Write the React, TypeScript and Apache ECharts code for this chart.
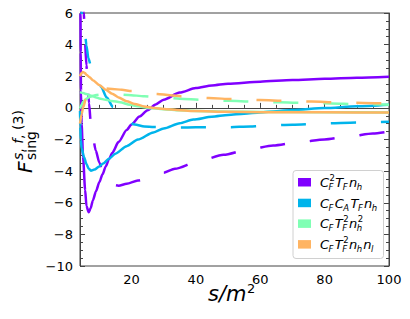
import React, { useEffect, useRef } from 'react';
import * as echarts from 'echarts';

// ---- axes ----
const xMin = 4;
const xMax = 100;
const yMin = -10;
const yMax = 6;
const yStep = 2;
const xMajorTicks = [20, 40, 60, 80, 100];
const xMinorTicks = [5, 10, 15, 25, 30, 35, 45, 50, 55, 65, 70, 75, 85, 90, 95];

// ---- colours (one per colour factor) ----
const colors = ['#8000ff', '#00b4eb', '#80ffb4', '#ffb462'];

// ---- series values [s/m^2, F] ----
const cf2TfNhSolid: [number, number][] = [
  [4.08, 9], [4.15, 6], [4.22, 3.5], [4.3, 1.1], [4.5, -1.0], [4.95, -3.1], [5.6, -5.2], [6.0, -6.2],
  [6.7, -6.6], [7.3, -6.35], [8, -5.85], [9, -5.25], [10, -4.7], [11, -4.2], [12, -3.7], [13, -3.25],
  [14, -2.85], [16, -2.15], [18.5, -1.4], [20, -1.05], [22.5, -0.55], [25, -0.15], [27.5, 0.22],
  [30, 0.52], [35, 0.97], [40, 1.25], [45, 1.42], [50, 1.53], [60, 1.66], [70, 1.76], [80, 1.84],
  [90, 1.91], [100, 1.97],
];
const cf2TfNhDashed: [number, number][] = [
  [5.0, 7.2], [5.17, 6.0], [5.6, 4.0], [6.0, 2.7], [6.4, 1.4], [6.8, 0.3], [7.3, -0.8], [8, -1.85],
  [8.9, -2.7], [10, -3.45], [11, -4.05], [12.5, -4.6], [14, -4.85], [16, -4.92], [18.5, -4.8],
  [22, -4.6], [25.7, -4.39], [30, -4.1], [33.5, -3.85], [40.8, -3.38], [48.6, -2.97], [56.4, -2.63],
  [64, -2.38], [72, -2.17], [80, -2.0], [87.5, -1.81], [95, -1.62], [100, -1.5],
];
const cfCaTfNhSolid: [number, number][] = [
  [4.0, -0.2], [4.1, -1.2], [4.24, -2.0], [4.5, -2.55], [5.27, -3.12], [6, -3.55], [6.7, -3.85],
  [7.4, -3.97], [8.5, -3.9], [10, -3.7], [11.2, -3.52], [13, -3.22], [15, -2.9], [18.5, -2.42],
  [22, -2.0], [26.8, -1.55], [30, -1.3], [35, -0.97], [39.2, -0.74], [45, -0.56], [50, -0.45],
  [55, -0.37], [60, -0.29], [65, -0.21], [70, -0.13], [80, -0.01], [90, 0.1], [100, 0.2],
];
const cfCaTfNhDashed: [number, number][] = [
  [4.15, 7.5], [4.3, 6.3], [5.0, 5.3], [5.5, 4.8], [6.0, 3.95], [6.6, 3.15], [7.5, 2.55], [8.9, 2.0],
  [10.5, 1.35], [12.3, 0.65], [14.3, 0.05], [16.5, -0.45], [18.5, -0.8], [21, -1.05], [24, -1.17],
  [27, -1.21], [30, -1.23], [35, -1.24], [40, -1.23], [50, -1.22], [57, -1.18], [60, -1.15],
  [70, -1.06], [80, -0.98], [90, -0.92], [100, -0.87],
];
const cfTf2Nh2Solid: [number, number][] = [
  [4.0, 1.0], [5, 0.94], [6, 0.87], [7, 0.8], [8, 0.73], [9, 0.66], [10, 0.6], [12, 0.51],
  [14, 0.44], [16.4, 0.36], [19.5, 0.2], [22, 0.1], [25, 0.0], [30, -0.08], [35, -0.15],
  [40, -0.19], [50, -0.24], [60, -0.26], [80, -0.27], [100, -0.29],
];
const cfTf2Nh2Dashed: [number, number][] = [
  [4.0, -0.05], [4.5, 0.2], [5, 0.38], [6, 0.58], [7, 0.7], [8, 0.77], [9, 0.81], [10.5, 0.84],
  [12.5, 0.85], [15, 0.85], [19, 0.82], [24, 0.73], [30, 0.64], [35, 0.58], [42, 0.5], [50, 0.45],
  [58, 0.4], [66, 0.35], [74, 0.31], [82, 0.28], [90, 0.24], [100, 0.2],
];
const cfTf2NhNlSolid: [number, number][] = [
  [4.0, 2.0], [4.5, 2.2], [4.9, 2.27], [5.5, 2.2], [6, 2.1], [7, 1.93], [8, 1.75], [10, 1.45],
  [12, 1.15], [14, 0.9], [16, 0.66], [18.5, 0.42], [21, 0.25], [24, 0.09], [27, -0.01], [30, -0.07],
  [35, -0.15], [40, -0.2], [50, -0.25], [60, -0.27], [80, -0.28], [100, -0.3],
];
const cfTf2NhNlDashed: [number, number][] = [
  [4.0, -1.0], [4.5, -0.4], [5, 0.05], [5.8, 0.55], [7, 0.85], [8.5, 1.05], [10, 1.16], [12, 1.22],
  [14, 1.2], [17, 1.14], [20, 1.07], [24, 0.97], [28, 0.88], [32, 0.8], [36, 0.72], [44, 0.62],
  [52, 0.55], [60, 0.5], [68, 0.44], [76, 0.4], [84, 0.35], [92, 0.31], [100, 0.27],
];

// legend entries: tokens of base letter with optional sup / sub
type Tok = { b: string; sup?: string; sub?: string };
const legendEntries: Tok[][] = [
  [{ b: 'C', sup: '2', sub: 'F' }, { b: 'T', sub: 'F' }, { b: 'n', sub: 'h' }],
  [{ b: 'C', sub: 'F' }, { b: 'C', sub: 'A' }, { b: 'T', sub: 'F' }, { b: 'n', sub: 'h' }],
  [{ b: 'C', sub: 'F' }, { b: 'T', sup: '2', sub: 'F' }, { b: 'n', sup: '2', sub: 'h' }],
  [{ b: 'C', sub: 'F' }, { b: 'T', sup: '2', sub: 'F' }, { b: 'n', sub: 'h' }, { b: 'n', sub: 'l' }],
];

const FONT = 'DejaVu Sans';
const DASH = [25, 25];

let measureCtx: CanvasRenderingContext2D | null = null;
function textWidth(text: string, font: string): number {
  if (!measureCtx) measureCtx = document.createElement('canvas').getContext('2d');
  if (!measureCtx) return text.length * 8;
  measureCtx.font = font;
  return measureCtx.measureText(text).width;
}

function midY(baseline: number, size: number) {
  return baseline - 0.346 * size;
}

function buildLegend(): any[] {
  const els: any[] = [];
  els.push({
    type: 'rect',
    shape: { x: 293, y: 170.5, width: 90.5, height: 88, r: 3 },
    style: { fill: 'rgba(255,255,255,0.85)', stroke: '#d0d0d0', lineWidth: 1 },
    z: 100,
  });
  const main = 13;
  const small = 8.5;
  legendEntries.forEach((toks, i) => {
    const base = 187 + i * 20.7;
    els.push({
      type: 'rect',
      shape: { x: 298, y: base - 9, width: 13, height: 8.5 },
      style: { fill: colors[i] },
      z: 101,
    });
    let x = 320;
    toks.forEach((t) => {
      const fMain = `italic ${main}px "${FONT}"`;
      const wb = textWidth(t.b, fMain);
      els.push({
        type: 'text', z: 101,
        style: { text: t.b, x, y: midY(base, main), font: fMain, fill: '#000', verticalAlign: 'middle', align: 'left' },
      });
      let ws = 0;
      if (t.sup) {
        const f = `${small}px "${FONT}"`;
        ws = Math.max(ws, textWidth(t.sup, f));
        els.push({
          type: 'text', z: 101,
          style: { text: t.sup, x: x + wb + 0.5, y: midY(base - 6, small), font: f, fill: '#000', verticalAlign: 'middle', align: 'left' },
        });
      }
      if (t.sub) {
        const f = `italic ${small}px "${FONT}"`;
        ws = Math.max(ws, textWidth(t.sub, f));
        els.push({
          type: 'text', z: 101,
          style: { text: t.sub, x: x + wb - 0.5, y: midY(base + 3, small), font: f, fill: '#000', verticalAlign: 'middle', align: 'left' },
        });
      }
      x += wb + ws + 0.8;
    });
  });
  return els;
}

function buildAxisTitles(): any[] {
  const els: any[] = [];
  // y title, rotated
  els.push({
    type: 'group',
    x: 32,
    y: 173,
    rotation: Math.PI / 2,
    children: [
      { type: 'text', style: { text: 'F', x: 0, y: midY(0, 20), font: `italic 20px "${FONT}"`, fill: '#000', verticalAlign: 'middle', align: 'left' } },
      {
        type: 'text',
        style: {
          text: '{i|s}, {i|f}, (3)', x: 13, y: midY(-9.5, 14), fontSize: 14, fontFamily: FONT, fill: '#000',
          verticalAlign: 'middle', align: 'left',
          rich: { i: { fontStyle: 'italic', fontSize: 14, fontFamily: FONT, fill: '#000' } },
        },
      },
      { type: 'text', style: { text: 'sing', x: 13, y: midY(4, 14), font: `14px "${FONT}"`, fill: '#000', verticalAlign: 'middle', align: 'left' } },
    ],
  });
  // x title
  els.push({ type: 'text', style: { text: 's/m', x: 208, y: midY(301, 21), font: `italic 21px "${FONT}"`, fill: '#000', verticalAlign: 'middle', align: 'left' } });
  const w = textWidth('s/m', `italic 21px "${FONT}"`);
  els.push({ type: 'text', style: { text: '2', x: 208 + w + 0.5, y: midY(292.5, 13), font: `13px "${FONT}"`, fill: '#000', verticalAlign: 'middle', align: 'left' } });
  return els;
}

const AXIS_COLOR = '#444';

export default function App() {
  const ref = useRef<HTMLDivElement>(null);
  useEffect(() => {
    if (!ref.current) return;
    const chart = echarts.init(ref.current, undefined, { renderer: 'svg' });
    const mk = (name: string, data: [number, number][], color: string, dashed: boolean, z: number) => ({
      type: 'line',
      name,
      data,
      xAxisIndex: 0,
      yAxisIndex: 0,
      showSymbol: false,
      symbol: 'none',
      smooth: 0.25,
      smoothMonotone: 'x',
      clip: true,
      silent: true,
      z,
      lineStyle: { color, width: 2.5, type: dashed ? DASH : 'solid', cap: 'butt' },
    });
    const yLabel = (v: number) => (v < 0 ? '\u2212' + Math.abs(v) : String(v));
    chart.setOption({
      animation: false,
      backgroundColor: '#fff',
      grid: { left: 80, right: 21, top: 13, bottom: 53, show: true, borderColor: AXIS_COLOR, borderWidth: 1, backgroundColor: 'transparent' },
      xAxis: [
        {
          type: 'value', min: xMin, max: xMax, position: 'bottom',
          axisLine: { show: true, lineStyle: { color: AXIS_COLOR, width: 1 } },
          axisTick: { show: true, inside: true, length: 5, customValues: xMajorTicks, lineStyle: { color: AXIS_COLOR } },
          axisLabel: { show: true, customValues: xMajorTicks, margin: 7, fontSize: 13, fontFamily: FONT, color: '#000' },
          splitLine: { show: false },
        },
        {
          type: 'value', min: xMin, max: xMax, position: 'bottom', offset: 0,
          axisLine: { show: false },
          axisTick: { show: true, inside: true, length: 3, customValues: xMinorTicks, lineStyle: { color: AXIS_COLOR } },
          axisLabel: { show: false },
          splitLine: { show: false },
        },
      ],
      yAxis: [
        {
          type: 'value', min: yMin, max: yMax, interval: yStep, position: 'left',
          axisLine: { show: true, lineStyle: { color: AXIS_COLOR, width: 1 } },
          axisTick: { show: true, inside: true, length: 5, lineStyle: { color: AXIS_COLOR } },
          minorTick: { show: true, splitNumber: 4, length: 3, lineStyle: { color: AXIS_COLOR } },
          axisLabel: { show: true, formatter: yLabel, margin: 7, fontSize: 13, fontFamily: FONT, color: '#000' },
          splitLine: { show: false },
        },
        {
          type: 'value', min: yMin, max: yMax, interval: yStep, position: 'right',
          axisLine: { show: true, lineStyle: { color: AXIS_COLOR, width: 1 } },
          axisTick: { show: true, inside: true, length: 5, lineStyle: { color: AXIS_COLOR } },
          minorTick: { show: true, splitNumber: 4, length: 3, lineStyle: { color: AXIS_COLOR } },
          axisLabel: { show: false },
          splitLine: { show: false },
        },
      ],
      series: [
        mk('CF2 TF nh', cf2TfNhSolid, colors[0], false, 2),
        mk('CF2 TF nh (dashed)', cf2TfNhDashed, colors[0], true, 2),
        mk('CF CA TF nh', cfCaTfNhSolid, colors[1], false, 3),
        mk('CF CA TF nh (dashed)', cfCaTfNhDashed, colors[1], true, 3),
        mk('CF TF2 nh2', cfTf2Nh2Solid, colors[2], false, 4),
        mk('CF TF2 nh2 (dashed)', cfTf2Nh2Dashed, colors[2], true, 4),
        mk('CF TF2 nh nl', cfTf2NhNlSolid, colors[3], false, 5),
        mk('CF TF2 nh nl (dashed)', cfTf2NhNlDashed, colors[3], true, 5),
      ],
      graphic: [...buildAxisTitles(), ...buildLegend()],
    });
    return () => chart.dispose();
  }, []);
  return <div ref={ref} style={{ position: 'fixed', left: 0, top: 0, width: 410, height: 319 }} />;
}
